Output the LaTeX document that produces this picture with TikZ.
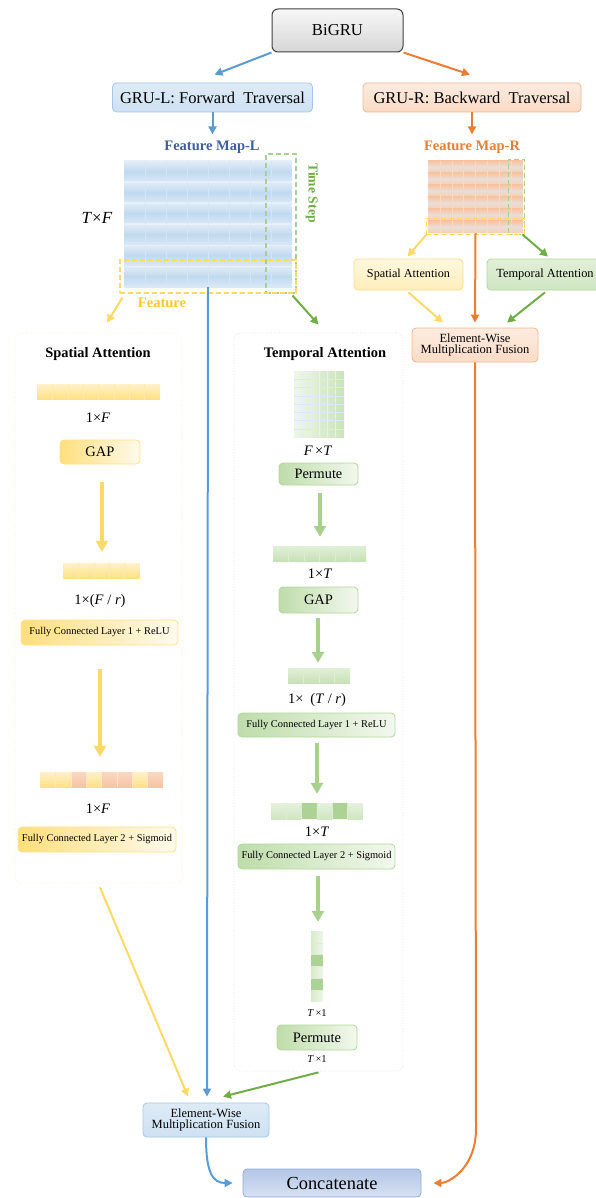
\documentclass[tikz,border=0pt]{standalone}
\usepackage{fontspec}
\setmainfont{Liberation Serif}
\usetikzlibrary{arrows.meta,calc}

\definecolor{cblue}{HTML}{5B9BD5}
\definecolor{corange}{HTML}{ED7D31}
\definecolor{cyellow}{HTML}{FFD966}
\definecolor{cgreen}{HTML}{70AD47}
\definecolor{lgreen}{HTML}{A9D18E}
\definecolor{dblue}{HTML}{3F5E9E}
\definecolor{fyellow}{HTML}{FFC72C}
\definecolor{catop}{HTML}{B4C7E7}
\definecolor{cabot}{HTML}{D6E0F3}
\definecolor{caedge}{HTML}{8FAADC}
\definecolor{rgray}{HTML}{E8DEDA}

\newcommand\fsz[1]{\fontsize{#1}{#1}\selectfont}

\tikzset{
  rbox/.style={rounded corners=4pt, align=center, inner sep=0pt, line width=0.8pt},
  bluebox/.style={rbox, draw=cblue!55, top color=cblue!20, bottom color=cblue!30},
  orangebox/.style={rbox, draw=corange!55, top color=corange!15, bottom color=corange!28},
  yelbox/.style={rbox, draw=cyellow!80, left color=cyellow!85, right color=cyellow!12},
  grnbox/.style={rbox, draw=lgreen!90, left color=lgreen!75, right color=lgreen!15},
  panel/.style={draw=#1, dotted, rounded corners=7pt, line width=0.7pt, inner sep=0pt},
  mainarrow/.style={line width=2pt, -{Triangle[length=8pt,width=8pt]}},
  fatarrow/.style={line width=4pt, -{Triangle[length=11pt,width=12pt]}},
  dashbox/.style={draw=#1, dashed, dash pattern=on 5pt off 3pt, line width=1.1pt, inner sep=0pt},
  cellline/.style={draw=#1, line width=0.4pt},
}

\begin{document}
\begin{tikzpicture}[x=1pt,y=-1pt]
\useasboundingbox (0,0) rectangle (595,1198);

% ---------- top ----------
\node[rbox, draw=black!75, line width=1pt, rounded corners=6pt, top color=gray!6, bottom color=gray!32,
      minimum width=131, minimum height=43] (bigru) at (337.5,30.5) {\fsz{16.7}BiGRU};
\node[bluebox, minimum width=200, minimum height=29] (grul) at (212.5,97.5) {\fsz{16.5}GRU-L: Forward\ \ Traversal};
\node[orangebox, minimum width=218, minimum height=29] (grur) at (472,97.5) {\fsz{16.5}GRU-R: Backward\ \ Traversal};

\draw[mainarrow, cblue] (bigru.south west) -- ($(grul.north)+(2,-8)$);
\draw[mainarrow, corange] (bigru.south east) -- ($(grur.north)+(-2,-8)$);
\draw[mainarrow, cblue] (grul.south) -- ($(grul.south)+(0,22)$);
\draw[mainarrow, corange] (grur.south) -- ($(grur.south)+(0,22)$);

% ---------- feature map L ----------
\node[text=dblue, font=\bfseries\fsz{14.5}] (fmlt) at (212,147) {Feature Map-L};
\foreach \r in {0,...,5} {
  \shade[top color=cblue!18, bottom color=cblue!22, middle color=cblue!38] (124,161+\r*21) rectangle ++(168,21);
}
\foreach \c in {1,...,7} \draw[cellline=cblue!26] (124+\c*21,161) -- ++(0,126);
\foreach \r in {1,...,5} \draw[cellline=cblue!14] (124,161+\r*21) -- ++(168,0);
\node[inner sep=0, minimum width=168, minimum height=126] (gridl) at (208,224) {};
\node[dashbox=lgreen, minimum width=30, minimum height=139] (timel) at (281,223.5) {};
\node[dashbox=cyellow, minimum width=176, minimum height=33] (featl) at (208,276.5) {};
\node[font=\fsz{17}] (tfl) at (97,218) {\textit{T}×\textit{F}};
\node[text=fyellow, font=\bfseries\fsz{14.5}] (featlab) at (162,303) {Feature};
\node[text=cgreen, font=\bfseries\fsz{13.7}, rotate=-90] (tslab) at (312,193) {Time Step};

% ---------- feature map R ----------
\node[text=corange, font=\bfseries\fsz{14.5}] (fmrt) at (472,147) {Feature Map-R};
\foreach \r in {0,...,5} {
  \shade[top color=corange!45, bottom color=corange!38, middle color=rgray] (428,161+\r*12) rectangle ++(95,12);
}
\foreach \c in {1,...,7} \draw[cellline=corange!30] (428+\c*11.875,161) -- ++(0,72);
\node[inner sep=0, minimum width=95, minimum height=72] (gridr) at (475.5,197) {};
\node[dashbox=lgreen, minimum width=16, minimum height=75, line width=0.8pt] (timer) at (516,196.5) {};
\node[dashbox=cyellow, minimum width=98, minimum height=16, line width=0.8pt] (featr) at (475,226) {};

\node[rbox, draw=cyellow!85, top color=cyellow!20, bottom color=cyellow!45, minimum width=109, minimum height=31] (spr) at (408.5,274.5) {\fsz{12.2}Spatial Attention};
\node[rbox, draw=lgreen!90, top color=lgreen!35, bottom color=lgreen!55, minimum width=116, minimum height=31] (tpr) at (545,274.5) {\fsz{12.4}Temporal Attention};
\node[orangebox, minimum width=126, minimum height=34] (fr) at (475,345) {\fsz{12.5}Element-Wise\\[-1pt]\fsz{12.5}Multiplication Fusion};

\draw[mainarrow, cyellow] ($(featr.south west)+(1,0)$) -- ($(spr.north)+(-1,-2)$);
\draw[mainarrow, cgreen] ($(timer.south east)+(-2,0)$) -- ($(tpr.north)+(3,-2)$);
\draw[mainarrow, corange] (gridr.south) -- ($(fr.north)+(0,-5)$);
\draw[mainarrow, cyellow] ($(spr.south)+(0,2)$) -- ($(fr.north)+(-32,-5)$);
\draw[mainarrow, cgreen] ($(tpr.south)+(0,2)$) -- ($(fr.north)+(32,-5)$);

% ---------- attention panels ----------
\node[panel=cyellow!45, minimum width=167, minimum height=550] (spanel) at (98.5,608) {};
\node[panel=lgreen!45, minimum width=169, minimum height=738] (tpanel) at (318.5,702) {};
\draw[mainarrow, cyellow] ($(featl.south west)+(3,4)$) -- ($(spanel.north)+(8.5,-10)$);
\draw[mainarrow, cgreen] ($(featl.south east)+(-4,2)$) -- ($(tpanel.north)+(0,-8)$);

% spatial attention
\node[font=\bfseries\fsz{14.4}] (sptitle) at (98,354) {Spatial Attention};
\foreach \i in {0,...,7} \shade[top color=cyellow!35, bottom color=cyellow!80] (37+\i*15.375,384) rectangle ++(15.375,15);
\foreach \i in {1,...,7} \draw[cellline=cyellow!55!white] (37+\i*15.375,384) -- ++(0,15);
\node[font=\fsz{14.5}] (sl1) at (98,418) {1×\textit{F}};
\node[yelbox, minimum width=80, minimum height=24] (sgap) at (100,452) {\fsz{14.5}GAP};
\node[inner sep=0, minimum width=77, minimum height=15] (sbar2) at (101.5,570.5) {};
\foreach \i in {0,...,4} \shade[top color=cyellow!35, bottom color=cyellow!80] (63+\i*15.4,563) rectangle ++(15.4,15);
\foreach \i in {1,...,4} \draw[cellline=cyellow!55!white] (63+\i*15.4,563) -- ++(0,15);
\draw[fatarrow, cyellow] ($(sgap.south)+(2,18)$) -- ($(sbar2.north)+(0.5,-11)$);
\node[font=\fsz{14.5}] (sl2) at (100,601) {1×(\textit{F} / \textit{r})};
\node[yelbox, minimum width=157, minimum height=25] (sfc1) at (99.5,632.5) {\fsz{10.4}Fully Connected Layer 1 + ReLU};
\node[inner sep=0, minimum width=123, minimum height=15] (sbar3) at (101.5,779.5) {};
\foreach \i/\c in {0/1,1/1,2/0,3/1,4/0,5/0,6/1,7/0} {
  \ifnum\c=1
    \shade[top color=cyellow!35, bottom color=cyellow!80] (40+\i*15.375,772) rectangle ++(15.375,15);
  \else
    \shade[top color=corange!30, bottom color=corange!45] (40+\i*15.375,772) rectangle ++(15.375,15);
  \fi
}
\foreach \i in {1,...,7} \draw[cellline=white!80!orange] (40+\i*15.375,772) -- ++(0,15);
\draw[fatarrow, cyellow] ($(sfc1.south)+(0.5,24)$) -- ($(sbar3.north)+(-1.5,-15)$);
\node[font=\fsz{14.5}] (sl3) at (98,809) {1×\textit{F}};
\node[yelbox, minimum width=158, minimum height=25] (sfc2) at (97,839.5) {\fsz{10.4}Fully Connected Layer 2 + Sigmoid};

% temporal attention
\node[font=\bfseries\fsz{14.5}] (tptitle) at (325,354) {Temporal Attention};
\shade[left color=lgreen!20, right color=lgreen!60] (294,371) rectangle (344,437);
\foreach \c in {1,...,5} \draw[cellline=cblue!15] (294+\c*8.333,371) -- ++(0,66);
\foreach \r in {1,...,7} \draw[cellline=cblue!22] (294,371+\r*8.25) -- ++(50,0);
\node[inner sep=0, minimum width=50, minimum height=66] (tgrid) at (319,404) {};
\node[font=\fsz{14.5}] (tl1) at (318,451) {\textit{F}\,×\textit{T}};
\node[grnbox, minimum width=79, minimum height=22] (tperm1) at (318.5,474) {\fsz{14.3}Permute};

\node[inner sep=0, minimum width=93, minimum height=15] (tbar1) at (319.5,553.5) {};
\foreach \i in {0,...,5} \shade[top color=lgreen!35, bottom color=lgreen!65] (273+\i*15.5,546) rectangle ++(15.5,15);
\foreach \i in {1,...,5} \draw[cellline=lgreen!40!white] (273+\i*15.5,546) -- ++(0,15);
\draw[fatarrow, lgreen] ($(tperm1.south)+(1.5,8)$) -- ($(tbar1.north)+(0.5,-9)$);
\node[font=\fsz{14.5}] (tl2) at (320,574) {1×\textit{T}};
\node[grnbox, minimum width=79, minimum height=26] (tgap) at (318.5,600) {\fsz{14.5}GAP};

\node[inner sep=0, minimum width=62, minimum height=15] (tbar2) at (319,675.5) {};
\foreach \i in {0,...,3} \shade[top color=lgreen!35, bottom color=lgreen!65] (288+\i*15.5,668) rectangle ++(15.5,15);
\foreach \i in {1,...,3} \draw[cellline=lgreen!40!white] (288+\i*15.5,668) -- ++(0,15);
\draw[fatarrow, lgreen] ($(tgap.south)+(-0.5,5)$) -- ($(tbar2.north)+(-1,-5)$);
\node[font=\fsz{14.5}] (tl3) at (317,700) {1×\hspace{7pt}(\textit{T} / \textit{r})};
\node[grnbox, minimum width=157, minimum height=24] (tfc1) at (316.5,725) {\fsz{10.4}Fully Connected Layer 1 + ReLU};

\node[inner sep=0, minimum width=92, minimum height=16] (tbar3) at (317,811) {};
\foreach \i/\c in {0/1,1/1,2/0,3/1,4/0,5/1} {
  \ifnum\c=1
    \shade[top color=lgreen!30, bottom color=lgreen!55] (271+\i*15.33,803) rectangle ++(15.33,16);
  \else
    \fill[lgreen!95] (271+\i*15.33,803) rectangle ++(15.33,16);
  \fi
}
\foreach \i in {1,...,5} \draw[cellline=lgreen!40!white] (271+\i*15.33,803) -- ++(0,16);
\draw[fatarrow, lgreen] ($(tfc1.south)+(0.5,6)$) -- ($(tbar3.north)+(0,-9)$);
\node[font=\fsz{14.5}] (tl4) at (317,832) {1×\textit{T}};
\node[grnbox, minimum width=157, minimum height=25] (tfc2) at (316.5,856.5) {\fsz{10.4}Fully Connected Layer 2 + Sigmoid};

\node[inner sep=0, minimum width=12, minimum height=71] (tvbar) at (317,966.5) {};
\foreach \i/\c in {0/1,1/1,2/0,3/1,4/0,5/1} {
  \ifnum\c=1
    \shade[left color=lgreen!45, right color=lgreen!20] (311,931+\i*11.83) rectangle ++(12,11.83);
  \else
    \fill[lgreen!95] (311,931+\i*11.83) rectangle ++(12,11.83);
  \fi
}
\foreach \i in {1,...,5} \draw[cellline=lgreen!40!white] (311,931+\i*11.83) -- ++(12,0);
\draw[fatarrow, lgreen] ($(tfc2.south)+(1.5,7)$) -- ($(tvbar.north)+(1,-9)$);
\node[font=\fsz{10.5}] (tl5) at (317,1013) {\textit{T}\,×1};
\node[grnbox, minimum width=80, minimum height=25] (tperm2) at (317,1037.5) {\fsz{14.5}Permute};
\node[font=\fsz{10.5}] (tl6) at (317,1059) {\textit{T}\,×1};

% ---------- fusion and concatenation ----------
\node[bluebox, minimum width=126, minimum height=34] (fl) at (206,1120) {\fsz{12.5}Element-Wise\\[-1pt]\fsz{12.5}Multiplication Fusion};
\node[rbox, draw=caedge, top color=catop, bottom color=cabot, minimum width=178, minimum height=28] (concat) at (332,1183) {\fsz{18.4}Concatenate};

\draw[mainarrow, cblue] (gridl.south) -- ($(fl.north)+(1,-6)$);
\draw[mainarrow, cyellow] ($(spanel.south)+(1.5,4)$) -- ($(fl.north)+(-18,-6)$);
\draw[mainarrow, cgreen] ($(tpanel.south)+(0,1)$) -- ($(fl.north)+(17,-6)$);
\draw[mainarrow, cblue] (fl.south) .. controls +(0,35) and +(-20,0) .. ($(concat.west)+(-10,0)$);
\draw[mainarrow, corange] (fr.south) -- ($(fr.south |- concat.north)+(1,-40)$)
   .. controls +(0,40) and +(15,0) .. ($(concat.east)+(12,0)$);
\end{tikzpicture}
\end{document}
